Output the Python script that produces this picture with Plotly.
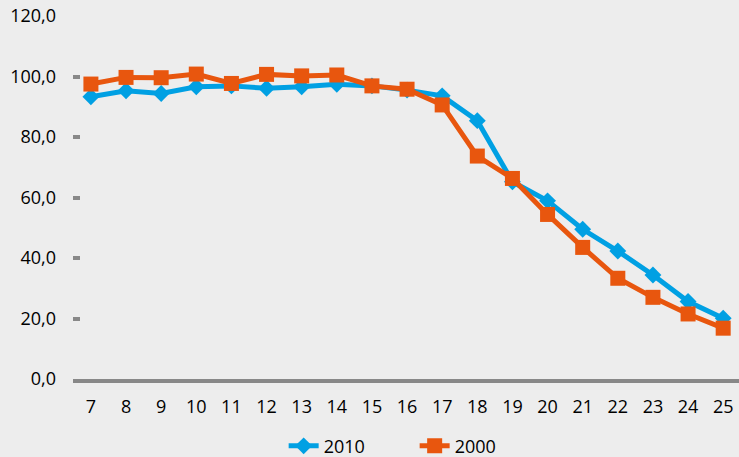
import plotly.graph_objects as go

ages = [str(a) for a in range(7, 26)]
s2010 = [93.3, 95.3, 94.4, 96.6, 96.9, 96.1, 96.6, 97.4, 96.9, 95.5, 93.6, 85.4, 65.2, 58.9, 49.5, 42.3, 34.4, 25.6, 20.1]
s2000 = [97.5, 99.7, 99.6, 100.8, 97.7, 100.7, 100.2, 100.5, 96.9, 95.8, 90.6, 73.7, 66.3, 54.4, 43.5, 33.3, 27.0, 21.5, 16.8]
y_ticks = [0, 20, 40, 60, 80, 100, 120]

BLUE = "#00A0E3"
ORANGE = "#E8560E"
FONT = "Open Sans"

fig = go.Figure()
fig.add_trace(go.Scatter(
    x=ages, y=s2010, name="2010", mode="lines+markers",
    line=dict(color=BLUE, width=5),
    marker=dict(symbol="diamond", size=13, color=BLUE),
))
fig.add_trace(go.Scatter(
    x=ages, y=s2000, name="2000", mode="lines+markers",
    line=dict(color=ORANGE, width=5),
    marker=dict(symbol="square", size=15, color=ORANGE),
))

fig.update_layout(
    width=739, height=457,
    margin=dict(l=73, r=0, t=16, b=78, autoexpand=False),
    paper_bgcolor="#EDEDED", plot_bgcolor="#EDEDED",
    font=dict(family=FONT, size=18, color="#000000"),
    separators=", ",
    showlegend=True,
    legend=dict(orientation="h", x=0.513, xanchor="center", y=-0.185, yanchor="middle",
                font=dict(size=18), entrywidth=86, bgcolor="rgba(0,0,0,0)"),
    xaxis=dict(type="category", range=[-0.51, 18.45], showgrid=False, zeroline=False,
               showline=True, linecolor="#888888", linewidth=4, ticks="",
               ticklabelstandoff=8, automargin=False),
    yaxis=dict(range=[0, 120], tickvals=y_ticks, tickformat=".1f", showgrid=False,
               zeroline=False, showline=False, ticks="inside", ticklen=7, tickwidth=4,
               tickcolor="#888888", ticklabelstandoff=16, automargin=False),
)

fig.write_html("out.html", config={"displayModeBar": False},
               post_script="document.body.style.margin='0';document.body.style.padding='0';document.body.style.overflow='hidden';")
